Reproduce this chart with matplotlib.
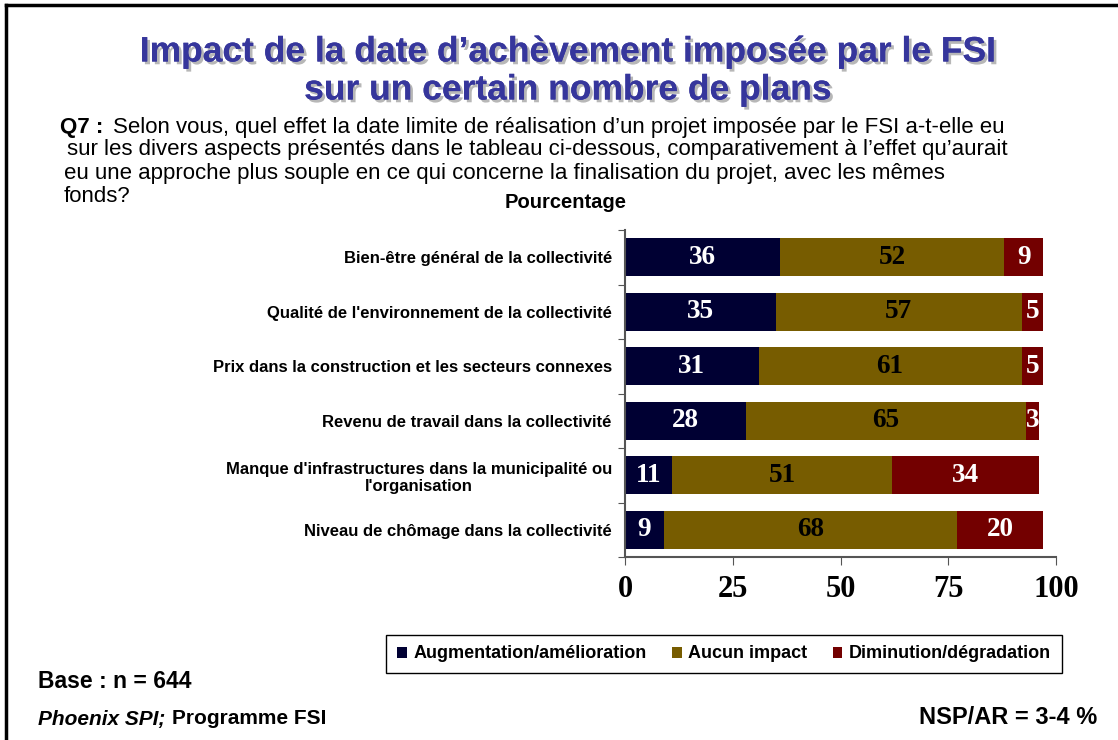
import matplotlib
matplotlib.use("Agg")
from matplotlib import pyplot as plt
import matplotlib.patheffects as pe
import numpy as np

categories = [
    "Bien-être général de la collectivité",
    "Qualité de l'environnement de la collectivité",
    "Prix dans la construction et les secteurs connexes",
    "Revenu de travail dans la collectivité",
    "Manque d'infrastructures dans la municipalité ou\nl'organisation",
    "Niveau de chômage dans la collectivité",
]
series_names = ["Augmentation/amélioration", "Aucun impact", "Diminution/dégradation"]
augmentation = [36, 35, 31, 28, 11, 9]
aucun = [52, 57, 61, 65, 51, 68]
diminution = [9, 5, 5, 3, 34, 20]
xticks = [0, 25, 50, 75, 100]

colors = ["#000033", "#775c00", "#730000"]
txtcolors = ["white", "black", "white"]

sans = "Liberation Sans"
serif = "Liberation Serif"

W, H = 1118, 740
fig = plt.figure(figsize=(W / 100, H / 100), dpi=100)


def fx(px): return px / W
def fy(py): return 1 - py / H


ax = fig.add_axes([fx(625), fy(557), fx(1056) - fx(625), fy(230) - fy(557)])

n = len(categories)
ypos = np.arange(n)
left = np.zeros(n)
for vals, name, c, tc in zip([augmentation, aucun, diminution], series_names, colors, txtcolors):
    vals = np.array(vals, dtype=float)
    bars = ax.barh(ypos, vals, left=left, height=0.7, color=c, label=name)
    for b, v, l in zip(bars, vals, left):
        ax.text(l + v / 2, b.get_y() + b.get_height() / 2, f"{int(v)}",
                ha="center", va="center", color=tc, fontsize=19.5,
                fontweight="bold", family=serif)
    left += vals

ax.set_xlim(0, 100)
ax.set_ylim(n - 0.5, -0.5)
ax.set_xticks(xticks)
ax.set_xticklabels([str(t) for t in xticks], fontsize=22, fontweight="bold", family=serif)
ax.set_yticks(np.arange(-0.5, n, 1))
ax.set_yticklabels([])
ax.set_yticks(ypos, minor=True)
ax.set_yticklabels(categories, minor=True, fontsize=12, fontweight="bold", family=sans,
                   ha="right", multialignment="center")
ax.tick_params(axis="y", which="minor", length=0, pad=9.5)
ax.tick_params(axis="y", which="major", length=5, color="#555555")
ax.tick_params(axis="x", length=6, color="#555555", pad=7)
for s in ["top", "right"]:
    ax.spines[s].set_visible(False)
for s in ["left", "bottom"]:
    ax.spines[s].set_color("#555555")
    ax.spines[s].set_linewidth(1.5)

# legend
leg = fig.legend(loc="center", bbox_to_anchor=(fx(724), fy(654)), ncol=3,
                 prop={"family": sans, "weight": "bold", "size": 13},
                 handlelength=0.55, handleheight=0.55, handletextpad=0.35,
                 columnspacing=1.4, fancybox=False, edgecolor="black",
                 borderpad=0.6, framealpha=1)
leg.get_frame().set_linewidth(1)

# title
title_fx = [pe.withSimplePatchShadow(offset=(2, -2), shadow_rgbFace="#999999", alpha=0.7), pe.Normal()]
fig.text(fx(568), fy(52), "Impact de la date d\u2019achèvement imposée par le FSI", ha="center", va="center",
         fontsize=25.5, fontweight="bold", family=sans, color="#36369c", path_effects=title_fx)
fig.text(fx(568), fy(90), "sur un certain nombre de plans", ha="center", va="center",
         fontsize=25.5, fontweight="bold", family=sans, color="#36369c", path_effects=title_fx)

# question
qs = 16
fig.text(fx(60), fy(128), "Q7 :", ha="left", va="center", fontsize=qs, fontweight="bold", family=sans)
fig.text(fx(113), fy(128), "Selon vous, quel effet la date limite de réalisation d\u2019un projet imposée par le FSI a-t-elle eu",
         ha="left", va="center", fontsize=qs, family=sans)
fig.text(fx(67), fy(150), "sur les divers aspects présentés dans le tableau ci-dessous, comparativement à l\u2019effet qu\u2019aurait",
         ha="left", va="center", fontsize=qs, family=sans)
fig.text(fx(64), fy(173), "eu une approche plus souple en ce qui concerne la finalisation du projet, avec les mêmes",
         ha="left", va="center", fontsize=qs, family=sans)
fig.text(fx(64), fy(197), "fonds?", ha="left", va="center", fontsize=qs, family=sans)
fig.text(fx(566), fy(203), "Pourcentage", ha="center", va="center", fontsize=14.5, fontweight="bold", family=sans)

# footer
fig.text(fx(38), fy(681), "Base : n = 644", ha="left", va="center", fontsize=16.5, fontweight="bold", family=sans)
fig.text(fx(38), fy(719), "Phoenix SPI;", ha="left", va="center", fontsize=15, fontweight="bold",
         style="italic", family=sans)
fig.text(fx(172), fy(719), "Programme FSI", ha="left", va="center", fontsize=15, fontweight="bold", family=sans)
fig.text(fx(1097), fy(718), "NSP/AR = 3-4 %", ha="right", va="center", fontsize=17, fontweight="bold", family=sans)

# frame (top and left edges)
fig.add_artist(plt.Line2D([fx(6), 1], [fy(5), fy(5)], color="black", lw=2.5))
fig.add_artist(plt.Line2D([fx(6), fx(6)], [0, fy(5)], color="black", lw=2.5))

fig.savefig("out.png", dpi=100)
